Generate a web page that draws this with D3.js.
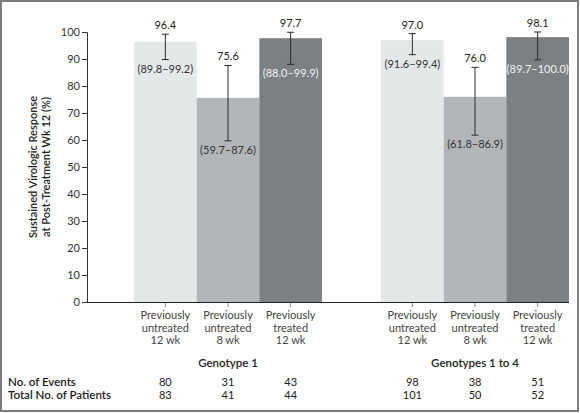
<!DOCTYPE html>
<html><head><meta charset="utf-8">
<script src="https://cdn.jsdelivr.net/npm/d3@7"></script>
<style>
body{margin:0;background:#fff;}
svg text{font-family:"Lato","Open Sans",sans-serif;}
</style></head>
<body><svg id="c" width="580" height="413"></svg>
<script>
const groups = ["Genotype 1", "Genotypes 1 to 4"];
const treatments = [["Previously","untreated","12 wk"],["Previously","untreated","8 wk"],["Previously","treated","12 wk"]];
const treatmentKeys = ["u12","u8","t12"];
const svrValues = [[96.4, 75.6, 97.7],[97.0, 76.0, 98.1]];
const ciLow = [[89.8, 59.7, 88.0],[91.6, 61.8, 89.7]];
const ciHigh = [[99.2, 87.6, 99.9],[99.4, 86.9, 100.0]];
const events = [[80, 31, 43],[98, 38, 51]];
const totals = [[83, 41, 44],[101, 50, 52]];
const yTicks = [0,10,20,30,40,50,60,70,80,90,100];
const barColors = ["#e5e8e9","#b3b6b8","#7d8083"];
const ciTextColors = ["#333","#333","#f2f2f2"];

const svg = d3.select("#c");
svg.append("rect").attr("x",1).attr("y",1).attr("width",577).attr("height",410)
  .attr("fill","#fff").attr("stroke","#7d7d7d").attr("stroke-width",2);

const y = d3.scaleLinear().domain([0,100]).range([302,32]);
const xg = d3.scaleBand().domain(groups).range([134,569]).paddingInner(0.239).paddingOuter(0);
const xi = d3.scaleBand().domain(treatmentKeys).range([0, xg.bandwidth()]).padding(0);
const axisX0 = 87, axisX1 = 569;

groups.forEach((g, gi) => {
  const gx = xg(g);
  treatmentKeys.forEach((k, ti) => {
    const bx = gx + xi(k), bw = xi.bandwidth(), cx = bx + bw/2;
    const v = svrValues[gi][ti];
    svg.append("rect").attr("x",bx).attr("y",y(v)).attr("width",bw).attr("height",y(0)-y(v)).attr("fill",barColors[ti]);
    const yl = y(ciLow[gi][ti]), yh = y(ciHigh[gi][ti]);
    const ec = "#2a2a2a";
    svg.append("line").attr("x1",cx).attr("x2",cx).attr("y1",yh).attr("y2",yl).attr("stroke",ec).attr("stroke-width",1);
    [yh, yl].forEach(yy => svg.append("line").attr("x1",cx-3.5).attr("x2",cx+3.5).attr("y1",yy).attr("y2",yy).attr("stroke",ec).attr("stroke-width",1));
    svg.append("text").attr("x",cx).attr("y",yh-5).attr("text-anchor","middle").attr("font-size",11).attr("fill","#222").text(v.toFixed(1));
    svg.append("text").attr("x",cx).attr("y",yl+13).attr("text-anchor","middle").attr("font-size",11).attr("fill",ciTextColors[ti])
      .text("(" + ciLow[gi][ti].toFixed(1) + "\u2013" + ciHigh[gi][ti].toFixed(1) + ")");
    svg.append("line").attr("x1",cx).attr("x2",cx).attr("y1",303).attr("y2",307).attr("stroke","#888");
    treatments[ti].forEach((line, li) => {
      svg.append("text").attr("x",cx).attr("y",319 + li*12.5).attr("text-anchor","middle").attr("font-size",11).attr("fill","#444").text(line);
    });
    svg.append("text").attr("x",cx).attr("y",386).attr("text-anchor","middle").attr("font-size",11).attr("fill","#222").text(events[gi][ti]);
    svg.append("text").attr("x",cx).attr("y",398.5).attr("text-anchor","middle").attr("font-size",11).attr("fill","#222").text(totals[gi][ti]);
  });
  svg.append("text").attr("x",gx + xg.bandwidth()/2).attr("y",367).attr("text-anchor","middle").attr("font-size",11.5).attr("font-weight",600).attr("fill","#222").text(g);
});

const yAxis = d3.axisLeft(y).tickValues(yTicks).tickSize(5).tickPadding(2).tickFormat(d3.format("d"));
const ya = svg.append("g").attr("transform",`translate(${axisX0},0)`).call(yAxis);
ya.select(".domain").attr("stroke","#333");
ya.selectAll(".tick line").attr("stroke","#333");
ya.selectAll(".tick text").attr("font-size",11).attr("fill","#333").attr("font-family","Lato, 'Open Sans', sans-serif");
svg.append("line").attr("x1",axisX0).attr("x2",axisX1).attr("y1",302.5).attr("y2",302.5).attr("stroke","#222").attr("stroke-width",1);

const yt = svg.append("text").attr("transform","translate(38,167) rotate(-90)").attr("text-anchor","middle").attr("font-size",11).attr("font-weight",600).attr("fill","#222");
yt.append("tspan").attr("x",0).attr("dy",-1).text("Sustained Virologic Response");
yt.append("tspan").attr("x",0).attr("dy",12.5).text("at Post-Treatment Wk 12 (%)");

svg.append("text").attr("x",8).attr("y",386).attr("font-size",11.5).attr("font-weight",600).attr("fill","#222").text("No. of Events");
svg.append("text").attr("x",8).attr("y",398.5).attr("font-size",11.5).attr("font-weight",600).attr("fill","#222").text("Total No. of Patients");
</script></body></html>
